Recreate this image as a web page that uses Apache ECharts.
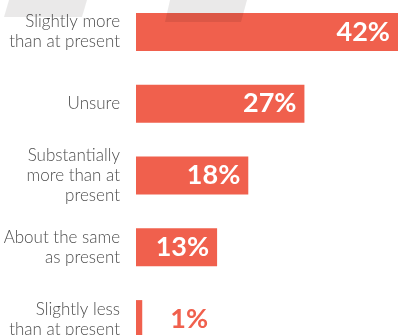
<!DOCTYPE html>
<html>
<head>
<meta charset="utf-8">
<script src="https://cdn.jsdelivr.net/npm/echarts@6/dist/echarts.min.js"></script>
<style>
html,body{margin:0;padding:0;background:#fff;overflow:hidden;}
#c{width:398px;height:380px;margin-top:-4px;}
</style>
</head>
<body>
<div id="c"></div>
<script>
var categories = [
  "Slightly more\nthan at present",
  "Unsure",
  "Substantially\nmore than at\npresent",
  "About the same\nas present",
  "Slightly less\nthan at present"
];
var values = [42, 27, 18, 13, 1];

var BAR = '#f0604d';
var chart = echarts.init(document.getElementById('c'));
var data = values.map(function (v) {
  if (v < 5) {
    return {
      value: v,
      label: { position: 'right', distance: 28, color: BAR }
    };
  }
  return v;
});
chart.setOption({
  animation: false,
  grid: { left: 136, right: -3, top: 0, height: 359, containLabel: false },
  xAxis: { type: 'value', min: 0, max: 42, show: false },
  yAxis: {
    type: 'category',
    data: categories,
    inverse: true,
    axisLine: { show: false },
    axisTick: { show: false },
    splitLine: { show: false },
    axisLabel: {
      margin: 16,
      color: '#4d4d4d',
      fontFamily: 'Lato',
      fontWeight: 300,
      fontSize: 17,
      lineHeight: 20,
      align: 'right'
    }
  },
  series: [{
    type: 'bar',
    data: data,
    barWidth: 38,
    itemStyle: { color: BAR },
    z: 2,
    label: {
      show: true,
      position: 'insideRight',
      distance: 8,
      formatter: '{c}%',
      color: '#ffffff',
      fontFamily: 'Lato',
      fontWeight: 'bold',
      fontSize: 27
    }
  }],
  graphic: [
    {
      type: 'polygon', z: 100,
      shape: { points: [[9, 4], [87, 4], [82, 21], [4, 21]] },
      style: { fill: 'rgba(8,4,0,0.088)' }
    },
    {
      type: 'polygon', z: 100,
      shape: { points: [[170, 4], [247, 4], [241, 26], [165, 26]] },
      style: { fill: 'rgba(8,4,0,0.088)' }
    }
  ]
});
</script>
</body>
</html>
